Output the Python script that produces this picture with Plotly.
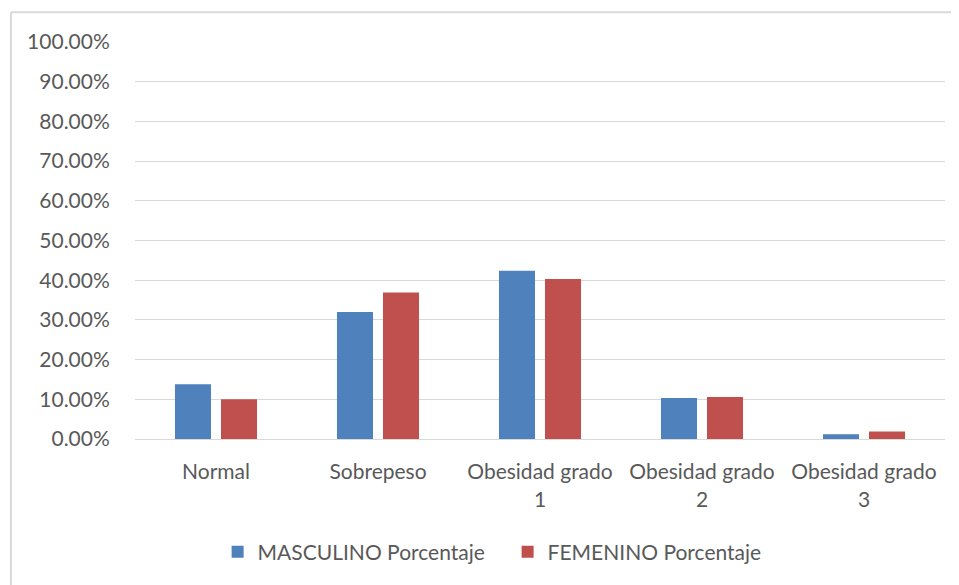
import plotly.graph_objects as go

categories = ["Normal", "Sobrepeso", "Obesidad grado<br>1", "Obesidad grado<br>2", "Obesidad grado<br>3"]
masculino = [0.138, 0.320, 0.424, 0.103, 0.012]
femenino = [0.100, 0.369, 0.403, 0.106, 0.019]
series_names = ["MASCULINO Porcentaje", "FEMENINO Porcentaje"]
y_ticks = [i / 10 for i in range(11)]

FONT = "Lato"
TXT = "#595959"
FS = 21

fig = go.Figure()
fig.add_trace(go.Bar(x=categories, y=masculino, name=series_names[0],
                     marker=dict(color="#4F81BD", line=dict(width=0))))
fig.add_trace(go.Bar(x=categories, y=femenino, name=series_names[1],
                     marker=dict(color="#C0504D", line=dict(width=0))))

# page body has an 8px margin
OFF = 8
W, H = 959 - OFF, 585 - OFF
L, T = 135 - OFF, 42 - OFF
R = OFF + W - 945
B = OFF + H - 441
pw, ph = W - L - R, H - T - B
bx = (11 - 135) / pw
by = 1 + (42 - 12) / ph

fig.update_layout(
    width=W, height=H,
    margin=dict(l=L, r=R, t=T, b=B),
    paper_bgcolor="white", plot_bgcolor="white",
    font=dict(family=FONT, size=FS, color=TXT),
    barmode="group", bargap=0.432, bargroupgap=0.217,
    showlegend=True,
    legend=dict(orientation="h", x=0.102, xanchor="left", xref="paper",
                y=-0.285, yanchor="middle",
                entrywidth=245, entrywidthmode="pixels",
                font=dict(size=FS, color=TXT), itemsizing="constant", traceorder="normal"),
    xaxis=dict(showgrid=False, showline=True, linecolor="#d9d9d9", linewidth=1,
               ticks="outside", ticklen=14, tickcolor="rgba(0,0,0,0)",
               tickfont=dict(size=FS, color=TXT)),
    yaxis=dict(range=[0, 1], tickvals=y_ticks, tickformat=".2%",
               showgrid=True, gridcolor="#d9d9d9", gridwidth=1,
               zeroline=False, showline=False,
               ticks="outside", ticklen=20, tickcolor="rgba(0,0,0,0)",
               tickfont=dict(size=FS, color=TXT)),
    shapes=[
        dict(type="line", xref="paper", yref="paper", x0=bx, x1=bx, y0=by, y1=-1,
             line=dict(color="#d9d9d9", width=2)),
        dict(type="line", xref="paper", yref="paper", x0=bx, x1=1.2, y0=by, y1=by,
             line=dict(color="#d9d9d9", width=2)),
    ],
)

fig.write_html("out.html")
